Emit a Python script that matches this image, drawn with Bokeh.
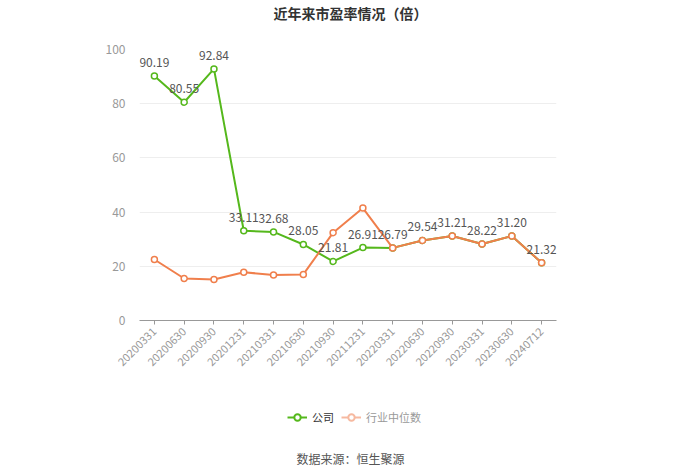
from bokeh.plotting import figure
from bokeh.layouts import column
from bokeh.models import ColumnDataSource, Legend, LegendItem, FixedTicker, Range1d
from bokeh.core.properties import value
from bokeh.embed import file_html
from bokeh.resources import INLINE
import math

dates = ["20200331", "20200630", "20200930", "20201231", "20210331", "20210630", "20210930",
         "20211231", "20220331", "20220630", "20220930", "20230331", "20230630", "20240712"]
company = [90.19, 80.55, 92.84, 33.11, 32.68, 28.05, 21.81, 26.91, 26.79, 29.54, 31.21, 28.22, 31.20, 21.32]
industry = [22.5, 15.5, 15.1, 17.8, 16.8, 17.0, 32.4, 41.5, 26.79, 29.54, 31.21, 28.22, 31.20, 21.32]
company_labels = ["%.2f" % v for v in company]
title_text = "近年来市盈率情况（倍）"
source_text = "数据来源：恒生聚源"
series_names = ["公司", "行业中位数"]

FONT = "Noto Sans CJK SC"
GREEN = "#55b81c"
ORANGE = "#f07f4c"
W = 700
LEFT, RIGHT = 139, 144


def blank(h):
    f = figure(width=W, height=h, x_range=Range1d(0, W - LEFT - RIGHT), y_range=Range1d(0, h),
               output_backend="svg", toolbar_location=None,
               min_border_left=LEFT, min_border_right=RIGHT,
               min_border_top=0, min_border_bottom=0)
    f.axis.visible = False
    f.grid.visible = False
    f.outline_line_color = None
    return f


# ---- top: title ----
TOP_H = 30
top = blank(TOP_H)
top.text(x=[W / 2 - LEFT], y=[TOP_H - 12], text=[title_text], text_align="center", text_baseline="middle",
         text_font=value(FONT), text_font_size="14px", text_font_style="bold", text_color="#333333")

# ---- main chart ----
src = ColumnDataSource(dict(x=dates, c=company, i=industry, lbl=company_labels))
MAIN_H = 355
p = figure(width=W, height=MAIN_H, x_range=dates, y_range=(0, 100),
           output_backend="svg", toolbar_location=None,
           min_border_left=LEFT, min_border_right=RIGHT, min_border_top=19, min_border_bottom=65)
p.outline_line_color = None

p.yaxis.ticker = FixedTicker(ticks=[0, 20, 40, 60, 80, 100])
p.yaxis.axis_line_color = None
p.yaxis.major_tick_line_color = None
p.yaxis.minor_tick_line_color = None
p.yaxis.major_label_text_color = "#999999"
p.yaxis.major_label_text_font = FONT
p.yaxis.major_label_text_font_size = "12px"
p.yaxis.major_label_standoff = 8

p.xaxis.axis_line_color = "#999999"
p.xaxis.major_tick_line_color = "#999999"
p.xaxis.major_tick_in = 0
p.xaxis.major_tick_out = 4
p.xaxis.major_label_orientation = math.pi / 4
p.xaxis.major_label_text_color = "#999999"
p.xaxis.major_label_text_font = FONT
p.xaxis.major_label_text_font_size = "11px"
p.xgrid.grid_line_color = None
p.ygrid.grid_line_color = "#eeeeee"

p.line("x", "c", source=src, line_color=GREEN, line_width=2)
p.scatter("x", "c", source=src, size=6, line_color=GREEN, fill_color="white", line_width=1.5)
p.line("x", "i", source=src, line_color=ORANGE, line_width=2)
p.scatter("x", "i", source=src, size=6, line_color=ORANGE, fill_color="white", line_width=1.5)

p.text("x", "c", text="lbl", source=src, text_align="center", text_baseline="bottom",
       y_offset=-9, text_font=value(FONT), text_font_size="12px", text_color="#555555")

# ---- bottom: legend + source ----
BOT_H = 474 - TOP_H - MAIN_H
bot = blank(BOT_H)
# invisible legend proxies (placed below the visible range)
hx, hy = [0, 1], [-50, -50]
g1 = bot.line(x=hx, y=hy, line_color=GREEN, line_width=2)
g1s = bot.scatter(x=hx[:1], y=hy[:1], size=10, line_color=GREEN, fill_color="white", line_width=2)
g2 = bot.line(x=hx, y=hy, line_color="#f6b9a0", line_width=2)
g2s = bot.scatter(x=hx[:1], y=hy[:1], size=10, line_color="#f6b9a0", fill_color="white", line_width=2)

leg_bottom = BOT_H - (425 - 385)
common = dict(orientation="horizontal", padding=0, margin=0, spacing=0, glyph_width=20,
              glyph_height=16, label_standoff=5, label_text_font=FONT, label_text_font_size="11px",
              border_line_color=None, background_fill_alpha=0, label_height=16)
leg1 = Legend(items=[LegendItem(label=series_names[0], renderers=[g1, g1s])],
              location=(287 - LEFT, leg_bottom), label_text_color="#333333", **common)
leg2 = Legend(items=[LegendItem(label=series_names[1], renderers=[g2, g2s])],
              location=(341 - LEFT, leg_bottom), label_text_color="#999999", **common)
bot.add_layout(leg1, "center")
bot.add_layout(leg2, "center")

bot.text(x=[W / 2 - LEFT], y=[BOT_H - (458 - 385)], text=[source_text], text_align="center",
         text_baseline="middle", text_font=value(FONT), text_font_size="12px", text_color="#555555")

layout = column(top, p, bot, spacing=0)
open("out.html", "w").write(file_html(layout, INLINE))
